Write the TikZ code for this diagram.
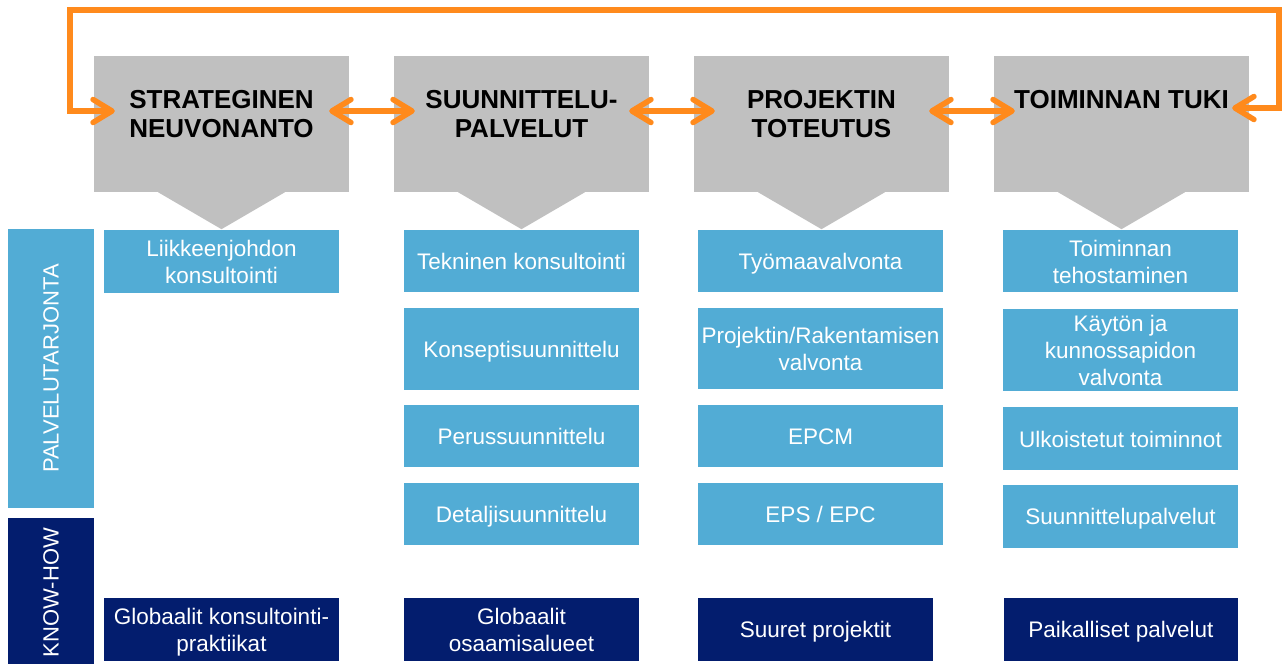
\documentclass[tikz,border=0pt]{standalone}
\usepackage{fontspec}
\setmainfont{Liberation Sans}
\usetikzlibrary{arrows.meta}
\definecolor{hgray}{HTML}{C0C0C0}
\definecolor{sblue}{HTML}{52ACD5}
\definecolor{navy}{HTML}{031D6E}
\definecolor{orng}{HTML}{FF8A1C}
\newcommand{\bs}{\rule[-4.2pt]{0pt}{25.8pt}}
\begin{document}
\begin{tikzpicture}[x=1pt,y=-1pt,
  hdr/.style={fill=hgray, draw=none, minimum width=255pt, minimum height=136pt, inner sep=0pt},
  hdrtext/.style={font=\fontsize{26}{29}\selectfont\bfseries, align=center, inner sep=0pt, anchor=north},
  svc/.style={fill=sblue, text=white, minimum width=235pt, inner sep=0pt, align=center, font=\fontsize{22.5}{27}\selectfont},
  khbox/.style={fill=navy, text=white, minimum width=235pt, minimum height=63pt, inner sep=0pt, align=center, font=\fontsize{22.5}{27}\selectfont},
  sidebar/.style={rotate=90, text=white, minimum height=86pt, inner sep=0pt, font=\fontsize{22}{26}\selectfont},
  tipb/.tip={Straight Barb[length=19pt, width=23pt, round]},
  oarr/.style={draw=orng, line width=5.5pt, tipb-tipb}
]
\useasboundingbox (0,0) rectangle (1283,664);

% header boxes
\foreach \n/\cx in {1/221.5, 2/521.5, 3/821.5, 4/1121.5}{
  \node[hdr] (h\n) at (\cx,124) {};
  \fill[hgray] ([xshift=-63.5pt]h\n.south) -- ([xshift=63.5pt]h\n.south) -- ([yshift=-37pt]h\n.south) -- cycle;
}
\node[hdrtext] (t1) at ([yshift=-34pt]h1.north) {STRATEGINEN\\NEUVONANTO};
\node[hdrtext] (t2) at ([yshift=-34pt]h2.north) {SUUNNITTELU-\\PALVELUT};
\node[hdrtext] (t3) at ([yshift=-34pt]h3.north) {PROJEKTIN\\TOTEUTUS};
\node[hdrtext] (t4) at ([yshift=-34pt]h4.north) {TOIMINNAN TUKI};

% orange connectors
\draw[oarr] ([shift={(-20,-13)}]h1.east) -- ([shift={(21,-13)}]h2.west);
\draw[oarr] ([shift={(-20,-13)}]h2.east) -- ([shift={(21,-13)}]h3.west);
\draw[oarr] ([shift={(-20,-13)}]h3.east) -- ([shift={(21,-13)}]h4.west);
\draw[oarr] ([shift={(-17,-16)}]h4.east) -- ++(47,0) |- (70,10) |- ([shift={(21,-13)}]h1.west);

% side bars
\node[sidebar, fill=sblue, minimum width=279pt] (pv) at (51,368.5) {PALVELUTARJONTA};
\node[sidebar, fill=navy, minimum width=149pt] (kw) at (51,592.5) {KNOW-HOW};

% column 1
\node[svc, minimum height=63pt] (a1) at (221.5,261.5) {\bs Liikkeenjohdon\\\bs konsultointi};
\node[khbox] (k1) at (221.5,629.5) {\bs Globaalit konsultointi-\\\bs praktiikat};

% column 2
\node[svc, minimum height=62pt] (b1) at (521.5,261) {\bs Tekninen konsultointi};
\node[svc, minimum height=82pt] (b2) at (521.5,349) {\bs Konseptisuunnittelu};
\node[svc, minimum height=62pt] (b3) at (521.5,436) {\bs Perussuunnittelu};
\node[svc, minimum height=62pt] (b4) at (521.5,514) {\bs Detaljisuunnittelu};
\node[khbox] (k2) at (521.5,629.5) {\bs Globaalit\\\bs osaamisalueet};

% column 3
\node[svc, minimum height=62pt, minimum width=245pt] (c1) at (820.5,261) {\bs Työmaavalvonta};
\node[svc, minimum height=81pt, minimum width=245pt] (c2) at (820.5,348.5) {\bs Projektin/Rakentamisen\\\bs valvonta};
\node[svc, minimum height=62pt, minimum width=245pt] (c3) at (820.5,436) {\bs EPCM};
\node[svc, minimum height=62pt, minimum width=245pt] (c4) at (820.5,514) {\bs EPS / EPC};
\node[khbox] (k3) at (815.5,629.5) {\bs Suuret projektit};

% column 4
\node[svc, minimum height=62pt] (d1) at (1120.5,261) {\bs Toiminnan\\\bs tehostaminen};
\node[svc, minimum height=82pt] (d2) at (1120.5,350) {\bs Käytön ja\\\bs kunnossapidon\\\bs valvonta};
\node[svc, minimum height=63pt] (d3) at (1120.5,438.5) {\bs Ulkoistetut toiminnot};
\node[svc, minimum height=63pt] (d4) at (1120.5,516.5) {\bs Suunnittelupalvelut};
\node[khbox, minimum width=234pt] (k4) at (1121,629.5) {\bs Paikalliset palvelut};
\end{tikzpicture}
\end{document}
